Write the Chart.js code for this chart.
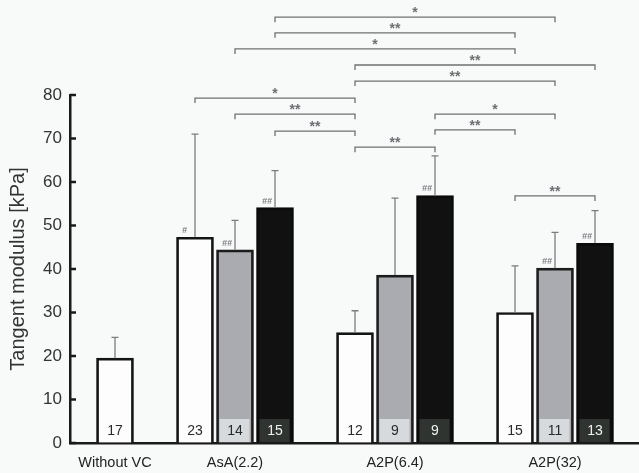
<!DOCTYPE html>
<html>
<head>
<meta charset="utf-8">
<script src="https://cdn.jsdelivr.net/npm/chart.js@4.4.1/dist/chart.umd.min.js"></script>
<style>
html,body{margin:0;padding:0;background:#f8f9f9;}
#wrap{width:639px;height:473px;position:relative;}
</style>
</head>
<body>
<div id="wrap"><canvas id="c" width="639" height="473"></canvas></div>
<script>
// ---- data ----
const categories = ['Without VC', 'AsA(2.2)', 'A2P(6.4)', 'A2P(32)'];
const whiteValues = [19.5, 47.3, 25.4, 30.0];
const whiteSD     = [4.8, 23.7, 5.0, 10.7];
const whiteN      = ['17', '23', '12', '15'];
const whiteMarks  = ['', '#', '', ''];
const grayValues  = [null, 44.4, 38.6, 40.2];
const graySD      = [null, 6.8, 17.7, 8.2];
const grayN       = [null, '14', '9', '11'];
const grayMarks   = [null, '##', '', '##'];
const blackValues = [null, 54.1, 56.9, 45.9];
const blackSD     = [null, 8.5, 9.1, 7.5];
const blackN      = [null, '15', '9', '13'];
const blackMarks  = [null, '##', '##', '##'];
const yTicks = [0, 10, 20, 30, 40, 50, 60, 70, 80];
// significance brackets: from bar, to bar (series letter + group index), level (kPa), label
const bracketFrom   = ['b1', 'b1', 'g1', 'w2', 'w2', 'w1', 'g1', 'b2', 'b1', 'b2', 'w2', 'w3'];
const bracketTo     = ['g3', 'w3', 'w3', 'b3', 'g3', 'w2', 'w2', 'g3', 'w2', 'w3', 'b2', 'b3'];
const bracketLevels = [97.9, 94.3, 90.6, 86.9, 83.2, 79.3, 75.6, 75.6, 71.7, 72.0, 68.0, 56.8];
const bracketLabels = ['*', '**', '*', '**', '**', '*', '**', '*', '**', '**', '**', '**'];

// ---- layout helpers ----
const seriesKeys = ['w', 'g', 'b'];
function groupCenter(i) { return i === 0 ? 0 : 4 * i - 1; }
function barPos(seriesIdx, groupIdx) {
  return groupIdx === 0 ? 0 : groupCenter(groupIdx) + (seriesIdx - 1);
}
const series = [
  {values: whiteValues, sd: whiteSD, n: whiteN, marks: whiteMarks, fill: '#fdfdfd', border: '#141414', box: null, text: '#2a2a2a'},
  {values: grayValues, sd: graySD, n: grayN, marks: grayMarks, fill: '#a9abb0', border: '#1c1c1c', box: '#d6dadd', text: '#2a2a2a'},
  {values: blackValues, sd: blackSD, n: blackN, marks: blackMarks, fill: '#111111', border: '#0a0a0a', box: '#2f3430', text: '#f0f0f0'}
];
const datasets = series.map((s, si) => ({
  data: s.values.map((v, gi) => v === null ? null : {x: barPos(si, gi), y: v}).filter(p => p !== null),
  backgroundColor: s.fill,
  borderColor: s.border,
  borderWidth: 2.7,
  borderSkipped: 'bottom',
  barThickness: 37,
  grouped: false
}));

const FONT = "'Liberation Sans', Arial, sans-serif";

const decor = {
  id: 'decor',
  beforeDraw(chart) {
    const ctx = chart.ctx;
    ctx.save();
    ctx.fillStyle = '#f8f9f9';
    ctx.fillRect(0, 0, chart.width, chart.height);
    ctx.restore();
  },
  afterDatasetsDraw(chart) {
    const ctx = chart.ctx;
    const xs = chart.scales.x, ys = chart.scales.y;
    const bottom = chart.chartArea.bottom;
    ctx.save();
    series.forEach((s, si) => {
      s.values.forEach((v, gi) => {
        if (v === null) return;
        const cx = xs.getPixelForValue(barPos(si, gi));
        const top = ys.getPixelForValue(v);
        // n label box
        if (s.box) {
          ctx.fillStyle = s.box;
          ctx.fillRect(cx - 15.5, bottom - 24, 30, 23);
        }
        ctx.fillStyle = s.text;
        ctx.font = '14px ' + FONT;
        ctx.textAlign = 'center';
        ctx.textBaseline = 'middle';
        ctx.fillText(s.n[gi], cx, bottom - 11.5);
        // error bar
        const et = ys.getPixelForValue(v + s.sd[gi]);
        ctx.strokeStyle = '#7a7d80';
        ctx.lineWidth = 1.3;
        ctx.beginPath();
        ctx.moveTo(cx, top);
        ctx.lineTo(cx, et);
        ctx.moveTo(cx - 3.5, et);
        ctx.lineTo(cx + 3.5, et);
        ctx.stroke();
        // significance marks vs. control
        if (s.marks[gi]) {
          ctx.fillStyle = '#7a7d80';
          ctx.font = 'italic bold 9px ' + FONT;
          ctx.textAlign = 'left';
          ctx.textBaseline = 'alphabetic';
          ctx.fillText(s.marks[gi], cx - 13, top - 4);
        }
      });
    });
    // inward y ticks
    ctx.strokeStyle = '#1a1a1a';
    ctx.lineWidth = 2.5;
    yTicks.forEach(t => {
      const y = ys.getPixelForValue(t);
      ctx.beginPath();
      ctx.moveTo(chart.chartArea.left, y);
      ctx.lineTo(chart.chartArea.left + 6, y);
      ctx.stroke();
    });
    // brackets
    const resolve = key => {
      const si = seriesKeys.indexOf(key[0]);
      const gi = parseInt(key.slice(1), 10);
      return xs.getPixelForValue(barPos(si, gi));
    };
    bracketLevels.forEach((lv, i) => {
      const x1 = resolve(bracketFrom[i]);
      const x2 = resolve(bracketTo[i]);
      const y = ys.getPixelForValue(lv);
      ctx.strokeStyle = '#6d7073';
      ctx.lineWidth = 1.3;
      ctx.beginPath();
      ctx.moveTo(x1, y + 5);
      ctx.lineTo(x1, y);
      ctx.lineTo(x2, y);
      ctx.lineTo(x2, y + 5);
      ctx.stroke();
      ctx.fillStyle = '#6d7073';
      ctx.font = 'bold 14px ' + FONT;
      ctx.textAlign = 'center';
      ctx.textBaseline = 'middle';
      ctx.fillText(bracketLabels[i], (x1 + x2) / 2, y - 4);
    });
    ctx.restore();
  }
};

new Chart(document.getElementById('c'), {
  type: 'bar',
  data: {datasets},
  options: {
    responsive: false,
    animation: false,
    devicePixelRatio: 1,
    layout: {padding: {top: 95, right: 0, left: 0, bottom: 0}},
    plugins: {legend: {display: false}, tooltip: {enabled: false}},
    scales: {
      x: {
        type: 'linear',
        offset: false,
        min: -1.125,
        max: 13.1,
        afterBuildTicks: sc => { sc.ticks = categories.map((c, i) => ({value: groupCenter(i)})); },
        afterFit: sc => { sc.height = 30; },
        ticks: {
          autoSkip: false,
          maxRotation: 0,
          padding: 11,
          color: '#222',
          font: {family: FONT, size: 14.5},
          callback: v => { const i = categories.findIndex((c, k) => groupCenter(k) === v); return i >= 0 ? categories[i] : ''; }
        },
        grid: {display: false, drawTicks: false},
        border: {display: true, color: '#1a1a1a', width: 2.5}
      },
      y: {
        min: 0,
        max: 80,
        afterBuildTicks: sc => { sc.ticks = yTicks.map(v => ({value: v})); },
        afterFit: sc => { sc.width = 70; },
        ticks: {
          padding: 8,
          color: '#333',
          font: {family: FONT, size: 17}
        },
        grid: {drawOnChartArea: false, drawTicks: false},
        border: {display: true, color: '#1a1a1a', width: 2.5},
        title: {
          display: true,
          text: 'Tangent modulus [kPa]',
          color: '#333',
          font: {family: FONT, size: 20},
          padding: {top: 6, bottom: 0}
        }
      }
    }
  },
  plugins: [decor]
});
</script>
</body>
</html>
